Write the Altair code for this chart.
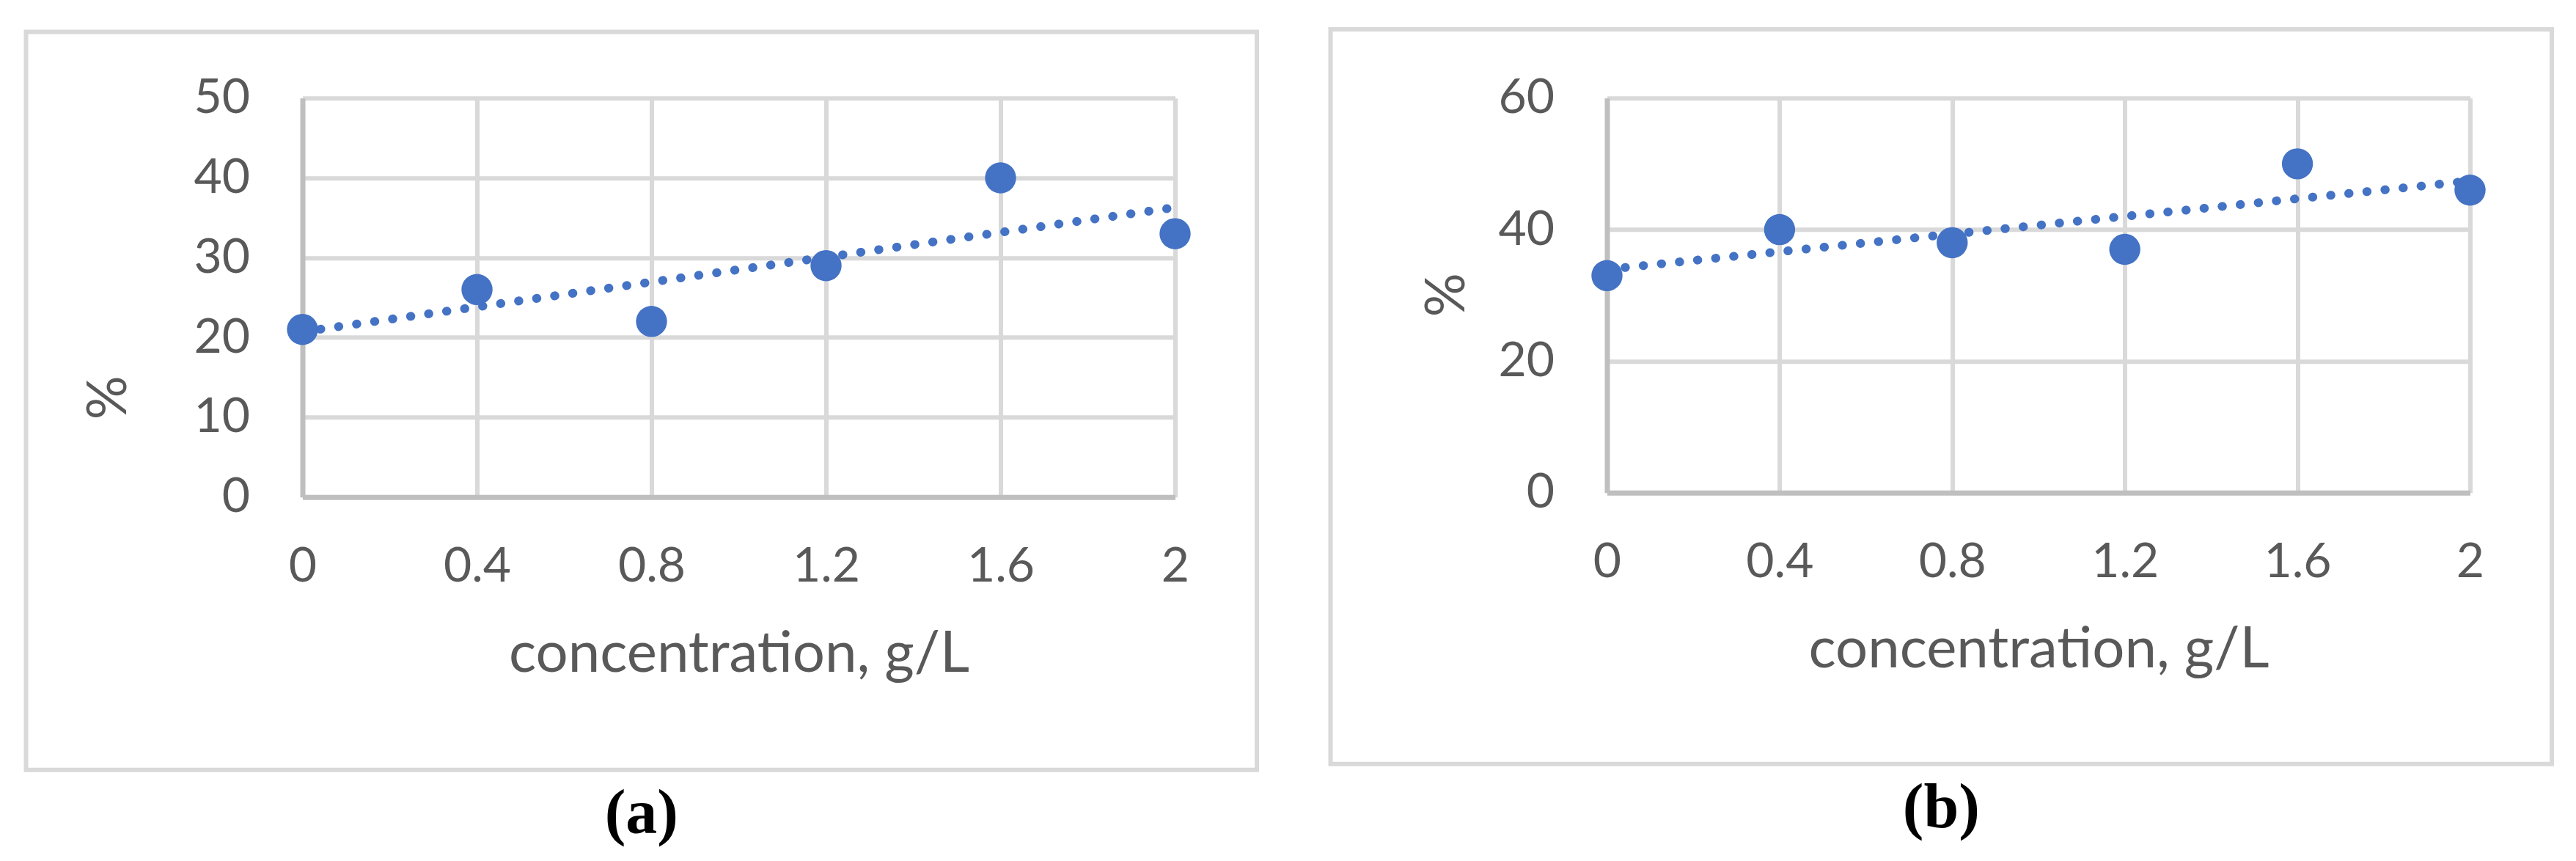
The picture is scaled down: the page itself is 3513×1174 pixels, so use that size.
import altair as alt
import pandas as pd

# ---- data ----
conc = [0, 0.4, 0.8, 1.2, 1.6, 2]
pct_a = [21, 26, 22, 29, 40, 33]
pct_b = [33, 40, 38, 37, 50, 46]
x_ticks = [0, 0.4, 0.8, 1.2, 1.6, 2]
y_ticks_a = [0, 10, 20, 30, 40, 50]
y_ticks_b = [0, 20, 40, 60]
x_title = "concentration, g/L"
y_title = "%"
captions = ["(a)", "(b)"]

BLUE = "#4472C4"
TEXT = "#595959"
FONT = "Lato"


def panel(values, yticks, ymax, caption, w, h, frame, ytx, yty):
    df = pd.DataFrame({"x": conc, "y": values})
    base = alt.Chart(df)
    xenc = alt.X(
        "x:Q",
        scale=alt.Scale(domain=[0, 2], nice=False, zero=False),
        axis=alt.Axis(values=x_ticks, format="~g", title=x_title, labelFlush=False,
                      labelPadding=63, titleY=238, titleBaseline="alphabetic"),
    )
    yenc = alt.Y(
        "y:Q",
        scale=alt.Scale(domain=[0, ymax], nice=False),
        axis=alt.Axis(values=yticks, title=y_title, labelPadding=72,
                      titleX=ytx, titleY=yty, titleAngle=270, titleFontSize=75,
                      titleBaseline="middle", titleAlign="center"),
    )
    trend = (
        base.transform_regression("x", "y", extent=[0, 2])
        .mark_line(color=BLUE, strokeWidth=12, strokeDash=[0.5, 24.3], strokeCap="round")
        .encode(x=xenc, y=yenc)
    )
    pts = base.mark_circle(size=1800, color=BLUE, opacity=1).encode(x=xenc, y=yenc)
    fl, fr, ft, fb = frame
    box = (
        alt.Chart(pd.DataFrame({"k": [0]}))
        .mark_rect(fill="white", fillOpacity=0, stroke="#d9d9d9", strokeWidth=6)
        .encode(x=alt.value(fl), x2=alt.value(w + fr), y=alt.value(ft), y2=alt.value(h + fb))
    )
    return alt.layer(box, trend, pts).properties(
        width=w,
        height=h,
        title=alt.TitleParams(caption, orient="bottom", anchor="middle", frame="bounds",
                              offset=15, font="Liberation Serif", fontSize=86,
                              fontWeight="bold", color="black"),
    )


pa = panel(pct_a, y_ticks_a, 50, captions[0], 1190, 544, (-377, 111.5, -90.3, 372), -264.5, 408)
pb = panel(pct_b, y_ticks_b, 60, captions[1], 1177, 538, (-377, 111.6, -93.8, 370), -218, 268)

chart = (
    alt.hconcat(pa, pb, spacing=94)
    .properties(padding={"left": 24.5, "top": 28.7, "right": 5, "bottom": 5}, background="white")
    .configure_axis(domainColor="#bfbfbf", domainWidth=7, gridColor="#d9d9d9", gridWidth=6,
                    ticks=False, tickSize=0, labelFont=FONT, labelFontSize=66, labelColor=TEXT,
                    titleFont=FONT, titleFontSize=78, titleColor=TEXT, titleFontWeight="normal")
    .configure_view(strokeWidth=0)
)

chart.save("out.html", embed_options={"renderer": "svg", "actions": False})
